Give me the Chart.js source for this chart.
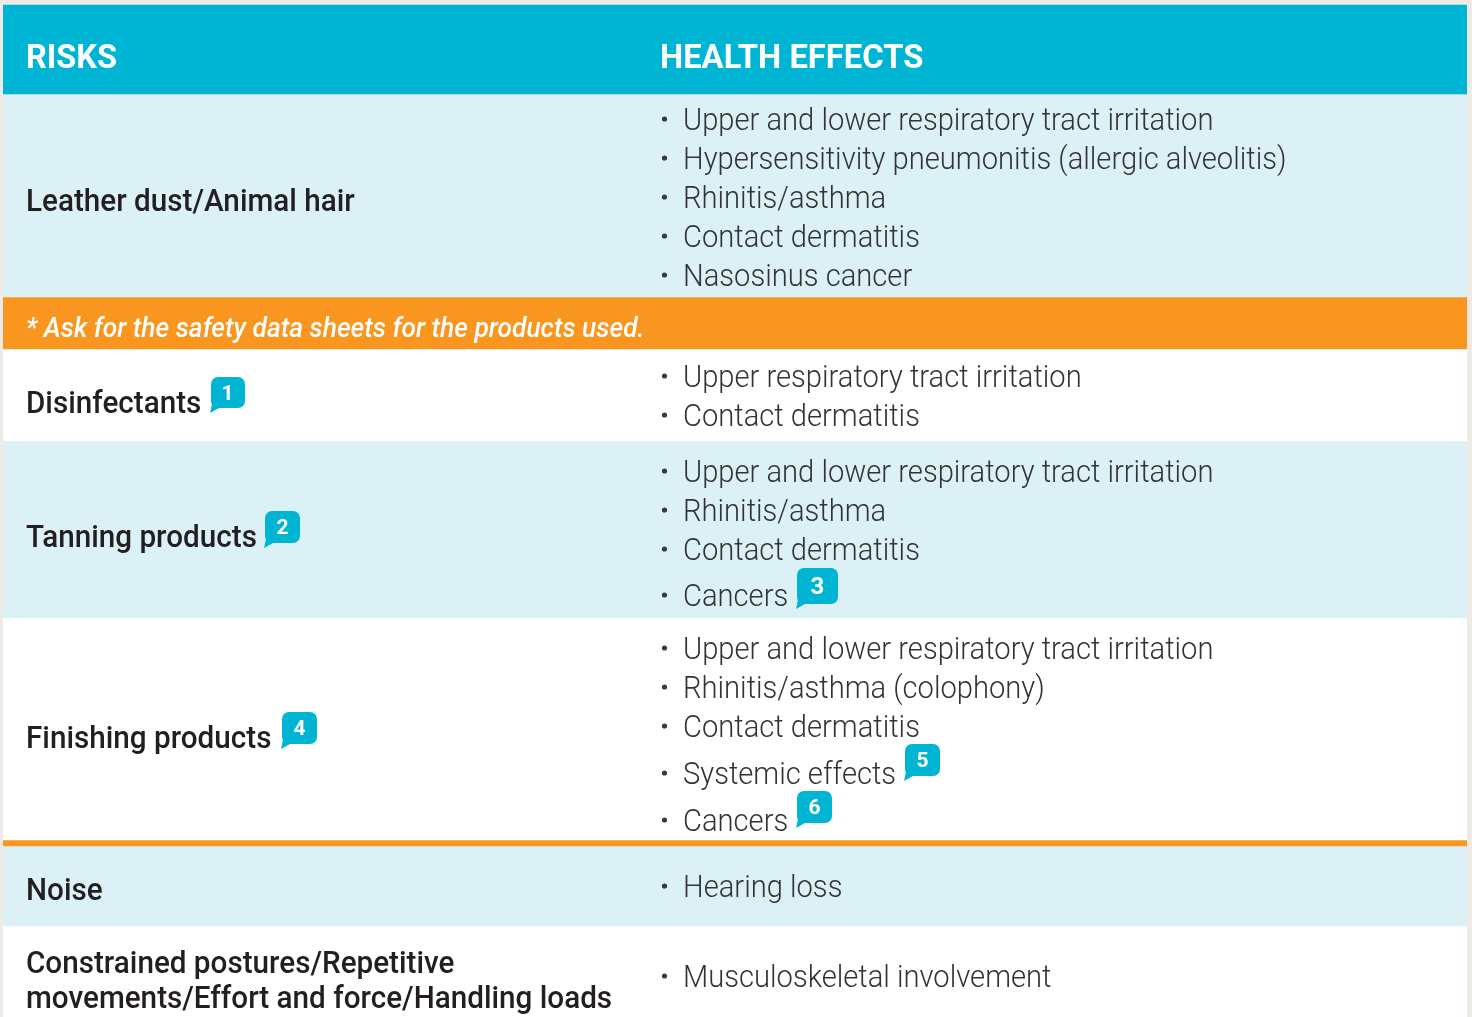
<!DOCTYPE html>
<html><head><meta charset="utf-8">
<script src="https://cdn.jsdelivr.net/npm/chart.js@4/dist/chart.umd.min.js"></script>
<style>html,body{margin:0;padding:0;background:#EEEAE5;overflow:hidden}canvas{display:block}</style>
</head><body><canvas id="c" width="1472" height="1017"></canvas>
<script>
const rowNames=["Header","Leather dust/Animal hair","Safety note","Disinfectants","Tanning products","Finishing products","Divider","Noise","Constrained postures"];
const rowStarts=[5,94,297,349,441,618,840,846,926];
const rowEnds=[94,297,349,441,618,840,846,926,1017];
const rowColors=["#00B5D3","#DCF1F6","#F9961F","#FFFFFF","#DCF1F6","#FFFFFF","#F9961F","#DCF1F6","#FFFFFF"];
const headers=["RISKS","HEALTH EFFECTS"];
const note="* Ask for the safety data sheets for the products used.";
const riskLabels=["Leather dust/Animal hair","Disinfectants","Tanning products","Finishing products","Noise","Constrained postures/Repetitive","movements/Effort and force/Handling loads"];
const riskBaselines=[211,413,547,748,900,973,1008];
const effectLabels=["Upper and lower respiratory tract irritation","Hypersensitivity pneumonitis (allergic alveolitis)","Rhinitis/asthma","Contact dermatitis","Nasosinus cancer","Upper respiratory tract irritation","Contact dermatitis","Upper and lower respiratory tract irritation","Rhinitis/asthma","Contact dermatitis","Cancers","Upper and lower respiratory tract irritation","Rhinitis/asthma (colophony)","Contact dermatitis","Systemic effects","Cancers","Hearing loss","Musculoskeletal involvement"];
const effectBaselines=[130,169,208,247,286,387,426,482,521,560,606,659,698,737,784,831,897,987];
const badgeNumbers=["1","2","3","4","5","6"];
const badgeLeft=[211,265,797,282,905,797];
const badgeTop=[377,511,568,712,744,791];
const badgeWidth=[34,35,41,35,35,35];
const badgeHeight=[31,32,36,32,32,32];

const textPlugin={id:"tableText",afterDatasetsDraw(chart){
  const ctx=chart.ctx,y=chart.scales.y;
  const put=(s,x,v,font,color,sx)=>{ctx.save();ctx.font=font;ctx.fillStyle=color;ctx.textBaseline="alphabetic";ctx.textAlign="left";ctx.translate(x,y.getPixelForValue(v));ctx.scale(sx||1,1);ctx.fillText(s,0,0);ctx.restore();};
  put(headers[0],26,68,"700 33px Roboto","#FFFFFF",.985);
  put(headers[1],660,68,"700 33px Roboto","#FFFFFF",.994);
  put(note,26,337,"italic 500 27px Roboto","#FFFFFF",.976);
  riskLabels.forEach((s,i)=>put(s,26,riskBaselines[i],"500 31px Roboto","#231F20",.957));
  effectLabels.forEach((s,i)=>{
    const b=effectBaselines[i],py=y.getPixelForValue(b-11);
    ctx.fillStyle="#3A3A3C";ctx.beginPath();ctx.arc(664.5,py,2.6,0,Math.PI*2);ctx.fill();
    put(s,683,b,"300 31px Roboto","#333335",.94);
  });
  badgeNumbers.forEach((n,i)=>{
    const l=badgeLeft[i],t=y.getPixelForValue(badgeTop[i]),w=badgeWidth[i],h=badgeHeight[i];
    ctx.fillStyle="#00B5D3";ctx.beginPath();ctx.roundRect(l,t,w,h,7);ctx.fill();
    ctx.beginPath();ctx.moveTo(l+1,t+h-4);ctx.lineTo(l-1,t+h+5);ctx.lineTo(l+8,t+h);ctx.closePath();ctx.fill();
    ctx.fillStyle="#FFFFFF";ctx.font=`700 ${i==2?24:21}px Roboto`;ctx.textAlign="center";ctx.textBaseline="middle";
    ctx.fillText(n,l+w/2+(i==0?-.5:0),t+h/2+2);
  });
}};

new Chart(document.getElementById("c"),{
  type:"bar",
  data:{labels:["Table"],datasets:rowNames.map((n,i)=>({label:n,data:[[rowStarts[i],rowEnds[i]]],backgroundColor:rowColors[i],borderWidth:0,grouped:false,barPercentage:1,categoryPercentage:1}))},
  options:{responsive:false,animation:false,events:[],
    layout:{padding:{left:3,right:5,top:0,bottom:0}},
    plugins:{legend:{display:false},tooltip:{enabled:false},title:{display:false}},
    scales:{x:{display:false,offset:true},y:{display:false,reverse:true,min:0,max:1017}}},
  plugins:[textPlugin]
});
</script></body></html>
